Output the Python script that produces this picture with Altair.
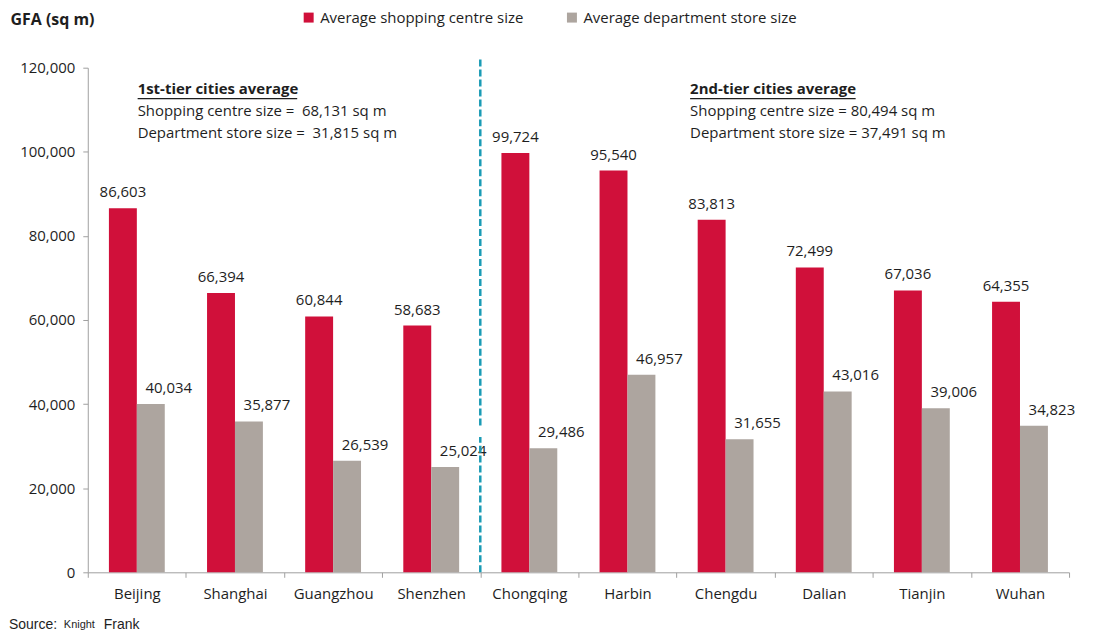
import altair as alt
import pandas as pd

cities = ["Beijing", "Shanghai", "Guangzhou", "Shenzhen", "Chongqing",
          "Harbin", "Chengdu", "Dalian", "Tianjin", "Wuhan"]
shopping = [86603, 66394, 60844, 58683, 99724, 95540, 83813, 72499, 67036, 64355]
department = [40034, 35877, 26539, 25024, 29486, 46957, 31655, 43016, 39006, 34823]
series_names = ["Average shopping centre size", "Average department store size"]
colors = ["#D0103A", "#ADA59F"]

tier1_lines = ["1st-tier cities average", "Shopping centre size =\u00a0\u00a068,131 sq m",
               "Department store size =\u00a0\u00a031,815 sq m"]
tier2_lines = ["2nd-tier cities average", "Shopping centre size = 80,494 sq m",
               "Department store size = 37,491 sq m"]

# divider between tiers (value ranges of the dashed line segments)
divider_city = ["Chongqing", "Chongqing"]
divider_lo = [0, 34900]
divider_hi = [32200, 122600]

rows = []
for c, s, d in zip(cities, shopping, department):
    rows.append({"city": c, "series": series_names[0], "value": s})
    rows.append({"city": c, "series": series_names[1], "value": d})
df = pd.DataFrame(rows)

FONT = "Open Sans"
TXT = "#1e1e1e"
AXC = "#a0a0a0"

yscale = alt.Scale(domain=[0, 120000], nice=False)
xscale = alt.Scale(domain=cities, paddingInner=0, paddingOuter=0)
xoff_scale = alt.Scale(domain=series_names, paddingInner=0, paddingOuter=0.757)

x_enc = alt.X("city:N", sort=cities, scale=xscale,
              axis=alt.Axis(title=None, labelAngle=0, tickBand="extent",
                            labelFontSize=15, labelFont=FONT, labelColor=TXT,
                            labelPadding=9, tickSize=5, domainColor=AXC,
                            tickColor=AXC, grid=False))
y_enc = alt.Y("value:Q", scale=yscale,
              axis=alt.Axis(title="GFA (sq m)", titleAngle=0, titleAlign="left",
                            titleBaseline="middle", titleX=-78, titleY=-48,
                            titleFont=FONT, titleFontSize=16, titleFontWeight="bold",
                            titleColor=TXT, values=[0, 20000, 40000, 60000, 80000, 100000, 120000],
                            format=",d", labelFontSize=15, labelFont=FONT,
                            labelColor=TXT, labelPadding=8, tickSize=5,
                            domainColor=AXC, tickColor=AXC, grid=False))

bars = alt.Chart(df).mark_bar().encode(
    x=x_enc,
    xOffset=alt.XOffset("series:N", sort=series_names, scale=xoff_scale),
    y=y_enc,
    color=alt.Color("series:N", sort=series_names,
                    scale=alt.Scale(domain=series_names, range=colors),
                    legend=alt.Legend(title=None, orient="none", direction="horizontal",
                                      legendX=214, legendY=-58, columns=2,
                                      columnPadding=40, symbolType="square",
                                      symbolSize=100, symbolStrokeWidth=0,
                                      labelFontSize=15, labelFont=FONT, labelLimit=0,
                                      labelColor=TXT, labelOffset=4)),
)


def value_labels(series, dx):
    return alt.Chart(df).transform_filter(
        alt.datum.series == series
    ).mark_text(baseline="alphabetic", dy=-11, dx=dx, fontSize=15,
                font=FONT, color=TXT).encode(
        x=alt.X("city:N", sort=cities, scale=xscale),
        xOffset=alt.XOffset("series:N", sort=series_names, scale=xoff_scale),
        y=alt.Y("value:Q", scale=yscale),
        text=alt.Text("value:Q", format=","),
    )


labels_shop = value_labels(series_names[0], 0)
labels_dept = value_labels(series_names[1], 18)

div_df = pd.DataFrame({"city": divider_city, "lo": divider_lo, "hi": divider_hi})
divider = alt.Chart(div_df).mark_rule(color="#1A9BB5", strokeWidth=2.5,
                                      strokeDash=[7, 3], clip=False).encode(
    x=alt.X("city:N", sort=cities, scale=xscale, bandPosition=0),
    y=alt.Y("lo:Q", scale=yscale),
    y2="hi:Q",
)

one = pd.DataFrame({"k": [0]})


def note(text, x, y, bold=False, size=15, font=FONT):
    return alt.Chart(one).mark_text(
        text=text, align="left", baseline="middle", fontSize=size, font=font,
        fontWeight="bold" if bold else "normal", color=TXT).encode(
        x=alt.value(x), y=alt.value(y))


def underline(x1, x2, y):
    return alt.Chart(one).mark_rule(color=TXT, strokeWidth=1.2).encode(
        x=alt.value(x1), x2=alt.value(x2), y=alt.value(y))


notes = [
    note(tier1_lines[0], 50, 21, bold=True), underline(50, 210, 31),
    note(tier1_lines[1], 50, 43), note(tier1_lines[2], 50, 65),
    note(tier2_lines[0], 604, 21, bold=True), underline(604, 770, 31),
    note(tier2_lines[1], 604, 43), note(tier2_lines[2], 604, 65),
    note("Source:", -79, 559, size=14, font="Liberation Sans"),
    note("Knight", -24, 559, size=11, font="Liberation Sans"),
    note("Frank", 16, 559, size=14, font="Liberation Sans"),
]

chart = alt.layer(bars, labels_shop, labels_dept, divider, *notes).properties(
    width=984, height=506,
    autosize=alt.AutoSizeParams(type="none"),
    padding={"left": 80, "top": 59, "right": 20, "bottom": 58},
).configure_view(stroke=None)

chart.save("out.html", embed_options={"renderer": "svg", "actions": False})
